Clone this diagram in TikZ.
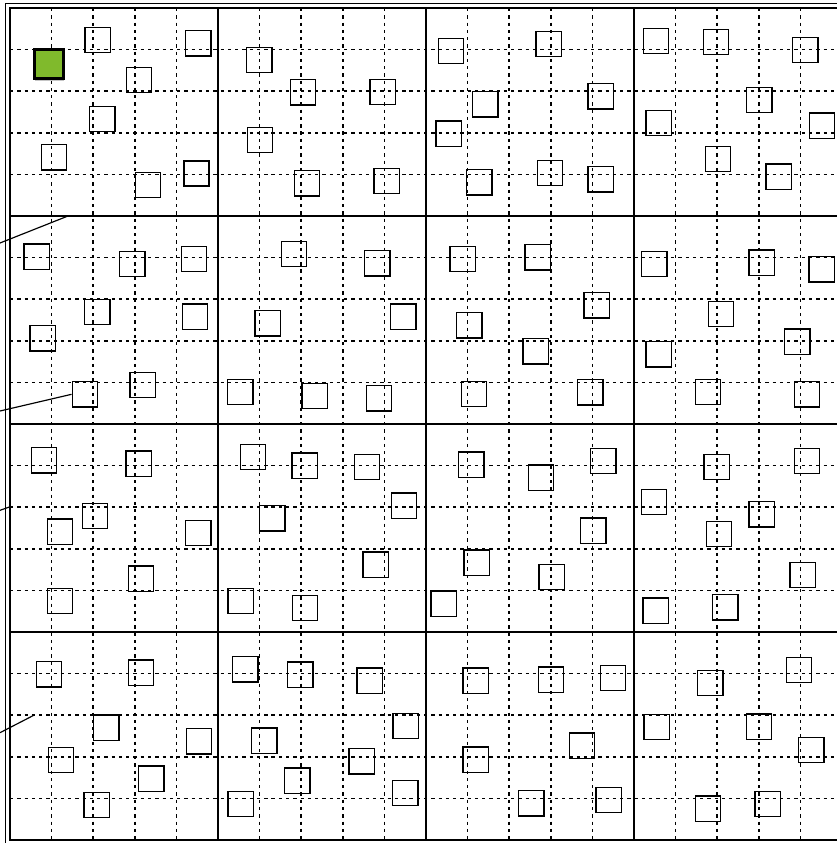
\documentclass[tikz,border=0pt]{standalone}
\usetikzlibrary{shadows}
\definecolor{leafgreen}{RGB}{128,186,44}
\begin{document}
\begin{tikzpicture}[x=0.3mm, y=-0.3mm,
  cellbox/.style={draw, minimum size=7.6mm, inner sep=0pt, line width=1.35pt},
  startbox/.style={draw, line width=3pt, fill=leafgreen, minimum size=8.7mm, inner sep=0pt,
    drop shadow={shadow xshift=0.8pt, shadow yshift=-2.2pt, opacity=0.45}},
  subline/.style={line width=1.35pt, dash pattern=on 2.8pt off 3.4pt},
  blockline/.style={line width=2pt},
  feed/.style={line width=1pt}]

\clip (0,0) rectangle (837,843);
\fill[white] (0,0) rectangle (837,843);

% --- Dashed sub grid ---
\foreach \k in {1,...,20} {
  \draw[subline] ({10+41.6*\k},8) -- ({10+41.6*\k},840);
  \draw[subline] (10,{8+41.6*\k}) -- (842,{8+41.6*\k});
}

% --- Block lines and frame ---
\foreach \k in {1,2,3} {
  \draw[blockline] ({10+208*\k},8) -- ({10+208*\k},840);
  \draw[blockline] (10,{8+208*\k}) -- (842,{8+208*\k});
}
\draw[line width=2.3pt] (10,8) rectangle (842,840);
\draw[line width=0.9pt] (5.5,3.8) rectangle (850,850);

% --- Start square ---
\node[startbox] (start) at (49,64) {};

% --- Row 1 ---
\node[cellbox] (s11a) at (97.7,40) {};
\node[cellbox] (s11b) at (198.3,43.3) {};
\node[cellbox] (s11c) at (139,80) {};
\node[cellbox] (s11d) at (102.3,119) {};
\node[cellbox] (s11e) at (54,157.3) {};
\node[cellbox] (s11f) at (148,185) {};
\node[cellbox] (s11g) at (196.5,173.5) {};

\node[cellbox] (s12a) at (259.3,60) {};
\node[cellbox] (s12b) at (303,92.3) {};
\node[cellbox] (s12c) at (382.7,92) {};
\node[cellbox] (s12d) at (260,140) {};
\node[cellbox] (s12e) at (307,183.3) {};
\node[cellbox] (s12f) at (386.7,181) {};

\node[cellbox] (s13a) at (451,51) {};
\node[cellbox] (s13b) at (548.7,44) {};
\node[cellbox] (s13c) at (485.3,104.3) {};
\node[cellbox] (s13d) at (600.7,96.3) {};
\node[cellbox] (s13e) at (448.7,133.7) {};
\node[cellbox] (s13f) at (479.3,182.3) {};
\node[cellbox] (s13g) at (550,173) {};
\node[cellbox] (s13h) at (600.7,179.3) {};

\node[cellbox] (s14a) at (656,41) {};
\node[cellbox] (s14b) at (716,42) {};
\node[cellbox] (s14c) at (805.3,50) {};
\node[cellbox] (s14d) at (759.3,100) {};
\node[cellbox] (s14e) at (658.7,123) {};
\node[cellbox] (s14f) at (822,125.7) {};
\node[cellbox] (s14g) at (718,159) {};
\node[cellbox] (s14h) at (778.7,176.7) {};

% --- Row 2 ---
\node[cellbox] (s21a) at (36.7,256.7) {};
\node[cellbox] (s21b) at (132.3,264) {};
\node[cellbox] (s21c) at (194,259) {};
\node[cellbox] (s21d) at (97.3,312) {};
\node[cellbox] (s21e) at (195,316.7) {};
\node[cellbox] (s21f) at (42.7,338.3) {};
\node[cellbox] (s21g) at (85,394.3) {};
\node[cellbox] (s21h) at (142.7,385) {};

\node[cellbox] (s22a) at (294,254) {};
\node[cellbox] (s22b) at (377.3,263.3) {};
\node[cellbox] (s22c) at (403.3,316.7) {};
\node[cellbox] (s22d) at (267.7,323.3) {};
\node[cellbox] (s22e) at (240.3,392) {};
\node[cellbox] (s22f) at (314.7,396) {};
\node[cellbox] (s22g) at (379,398.3) {};

\node[cellbox] (s23a) at (462.7,259) {};
\node[cellbox] (s23b) at (537.7,257.3) {};
\node[cellbox] (s23c) at (596.7,305.3) {};
\node[cellbox] (s23d) at (469.3,325.3) {};
\node[cellbox] (s23e) at (535.7,351.3) {};
\node[cellbox] (s23f) at (474,394) {};
\node[cellbox] (s23g) at (590.3,392.3) {};

\node[cellbox] (s24a) at (654.3,264) {};
\node[cellbox] (s24b) at (761.7,262.7) {};
\node[cellbox] (s24c) at (821.7,269.3) {};
\node[cellbox] (s24d) at (721,314) {};
\node[cellbox] (s24e) at (797.3,341.7) {};
\node[cellbox] (s24f) at (658.7,354.3) {};
\node[cellbox] (s24g) at (708,392) {};
\node[cellbox] (s24h) at (807,394.3) {};

% --- Row 3 ---
\node[cellbox] (s31a) at (44,460.3) {};
\node[cellbox] (s31b) at (138.7,463.7) {};
\node[cellbox] (s31c) at (95,516) {};
\node[cellbox] (s31d) at (60,531.7) {};
\node[cellbox] (s31e) at (198.3,533) {};
\node[cellbox] (s31f) at (141,578.7) {};
\node[cellbox] (s31g) at (60,601) {};

\node[cellbox] (s32a) at (253,457) {};
\node[cellbox] (s32b) at (304.7,465.7) {};
\node[cellbox] (s32c) at (367,467) {};
\node[cellbox] (s32d) at (404,505.7) {};
\node[cellbox] (s32e) at (272.3,518.3) {};
\node[cellbox] (s32f) at (375.7,564.7) {};
\node[cellbox] (s32g) at (240.7,601) {};
\node[cellbox] (s32h) at (305,608) {};

\node[cellbox] (s33a) at (471.3,464.7) {};
\node[cellbox] (s33b) at (541,477.7) {};
\node[cellbox] (s33c) at (603.3,461) {};
\node[cellbox] (s33d) at (593.3,530.7) {};
\node[cellbox] (s33e) at (476.7,562.7) {};
\node[cellbox] (s33f) at (551.7,577) {};
\node[cellbox] (s33g) at (443.7,603.7) {};

\node[cellbox] (s34a) at (716.7,467) {};
\node[cellbox] (s34b) at (807,461) {};
\node[cellbox] (s34c) at (654,502) {};
\node[cellbox] (s34d) at (761.7,514.3) {};
\node[cellbox] (s34e) at (719,534) {};
\node[cellbox] (s34f) at (802.7,575) {};
\node[cellbox] (s34g) at (655.7,610.7) {};
\node[cellbox] (s34h) at (725.3,607.3) {};

% --- Row 4 ---
\node[cellbox] (s41a) at (49,674.3) {};
\node[cellbox] (s41b) at (141,672.7) {};
\node[cellbox] (s41c) at (106.3,727.7) {};
\node[cellbox] (s41d) at (199,741.3) {};
\node[cellbox] (s41e) at (61,760) {};
\node[cellbox] (s41f) at (151.3,778.7) {};
\node[cellbox] (s41g) at (96.7,805) {};

\node[cellbox] (s42a) at (245.3,669.3) {};
\node[cellbox] (s42b) at (300.3,674.7) {};
\node[cellbox] (s42c) at (369.7,680.7) {};
\node[cellbox] (s42d) at (405.7,726) {};
\node[cellbox] (s42e) at (264.3,740.7) {};
\node[cellbox] (s42f) at (361.7,761.3) {};
\node[cellbox] (s42g) at (297.3,780.7) {};
\node[cellbox] (s42h) at (240.7,804) {};
\node[cellbox] (s42i) at (405.3,793) {};

\node[cellbox] (s43a) at (475.7,680.7) {};
\node[cellbox] (s43b) at (551,679.7) {};
\node[cellbox] (s43c) at (613,678) {};
\node[cellbox] (s43d) at (582,745.7) {};
\node[cellbox] (s43e) at (475.7,759.7) {};
\node[cellbox] (s43f) at (531.3,803.3) {};
\node[cellbox] (s43g) at (608.7,800) {};

\node[cellbox] (s44a) at (710.3,683) {};
\node[cellbox] (s44b) at (799,670) {};
\node[cellbox] (s44c) at (656.7,727) {};
\node[cellbox] (s44d) at (759,726.7) {};
\node[cellbox] (s44e) at (811.3,750) {};
\node[cellbox] (s44f) at (708,808.7) {};
\node[cellbox] (s44g) at (767.7,804) {};

% --- Incoming lines from the left ---
\coordinate (in1) at (0,243);
\coordinate (in1e) at (68,216);
\coordinate (in2) at (0,411);
\coordinate (in3) at (0,510.3);
\coordinate (in3e) at (9.3,507);
\coordinate (in4) at (0,732.7);
\coordinate (in4e) at (34.3,715);
\draw[feed] (in1) -- (in1e);
\draw[feed] (in2) -- (s21g.west);
\draw[feed] (in3) -- (in3e);
\draw[feed] (in4) -- (in4e);

\end{tikzpicture}
\end{document}
